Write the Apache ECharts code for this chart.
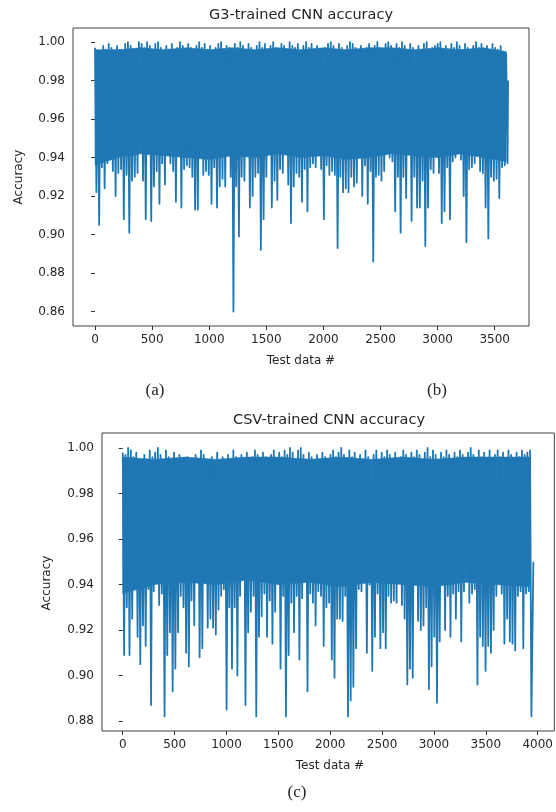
<!DOCTYPE html>
<html>
<head>
<meta charset="utf-8">
<script src="https://cdn.jsdelivr.net/npm/echarts@6/dist/echarts.min.js"></script>
<style>
    html, body { margin: 0; padding: 0; background: #fff; }
    #main { width: 556px; height: 812px; }
</style>
</head>
<body>
<div id="main"></div>
<script>
// G3 chart: one high + one low per block of 24 test samples
var g3Step = 24
var g3High = [
    0.997,0.993,0.995,0.998,0.996,0.999,0.997,0.995,0.998,0.996,
    0.994,0.999,1.000,0.998,0.988,0.996,1.000,0.999,0.997,1.000,
    0.998,0.996,0.999,1.000,0.997,0.995,0.998,0.996,0.999,0.994,
    0.997,1.000,0.998,0.996,0.999,0.997,0.995,0.998,1.000,0.997,
    0.999,0.996,0.998,0.994,0.997,0.999,1.000,0.996,0.998,0.997,
    0.995,0.999,0.997,1.000,0.998,0.996,0.999,0.997,0.994,0.998,
    1.000,0.997,0.999,0.996,0.998,1.000,0.997,0.995,0.999,0.998,
    0.996,1.000,0.998,0.997,0.999,0.995,0.998,1.000,0.997,0.999,
    0.996,0.998,0.994,0.989,0.997,0.999,1.000,0.998,0.996,0.999,
    0.997,0.995,0.998,1.000,0.999,0.997,0.996,0.998,0.994,0.997,
    0.999,0.996,0.998,1.000,0.997,0.989,0.999,1.000,0.998,0.996,
    0.999,0.997,1.000,0.998,0.995,0.999,0.997,0.994,0.998,0.996,
    0.999,1.000,0.985,0.997,0.998,0.999,1.000,0.996,0.998,0.995,
    0.999,0.997,1.000,0.998,0.996,0.999,0.997,0.994,0.998,1.000,
    0.997,0.999,0.996,0.998,0.995,0.999,0.997,0.996,0.998,0.995,
    0.994
]
var g3Low = [
    0.922,0.905,0.935,0.924,0.937,0.946,0.933,0.920,0.932,0.934,
    0.908,0.931,0.901,0.928,0.930,0.932,0.948,0.928,0.908,0.942,
    0.907,0.925,0.933,0.916,0.937,0.926,0.945,0.937,0.933,0.917,
    0.952,0.914,0.934,0.936,0.935,0.930,0.913,0.913,0.950,0.931,
    0.933,0.931,0.916,0.935,0.914,0.925,0.929,0.925,0.947,0.930,
    0.860,0.925,0.899,0.930,0.928,0.946,0.914,0.920,0.930,0.932,
    0.892,0.908,0.930,0.949,0.914,0.928,0.918,0.934,0.932,0.951,
    0.926,0.906,0.925,0.932,0.930,0.917,0.934,0.912,0.935,0.937,
    0.935,0.947,0.934,0.908,0.936,0.931,0.933,0.931,0.893,0.930,
    0.922,0.924,0.922,0.930,0.925,0.927,0.945,0.920,0.936,0.916,
    0.933,0.886,0.930,0.931,0.928,0.933,0.950,0.940,0.938,0.912,
    0.930,0.901,0.930,0.919,0.948,0.907,0.930,0.914,0.914,0.928,
    0.894,0.914,0.934,0.932,0.946,0.932,0.906,0.912,0.935,0.908,
    0.938,0.940,0.951,0.939,0.920,0.896,0.934,0.935,0.937,0.946,
    0.933,0.932,0.914,0.898,0.930,0.928,0.929,0.919,0.935,0.936,
    0.937
]
var g3Last = [3617, 0.980]
// dense core of the band (where the trace is too packed to show gaps)
var g3CoreX = [0, 200, 400, 600, 800, 1000, 1200, 1400, 1600, 1800, 2000, 2200, 2400, 2600, 2800, 3000, 3200, 3400, 3600]
var g3CoreTop = [0.996, 0.996, 0.997, 0.996, 0.997, 0.996, 0.997, 0.996, 0.997, 0.996, 0.997, 0.996, 0.997, 0.997, 0.996, 0.997, 0.996, 0.997, 0.995]
var g3CoreBot = [0.936, 0.940, 0.942, 0.941, 0.940, 0.939, 0.941, 0.940, 0.942, 0.940, 0.941, 0.939, 0.940, 0.942, 0.941, 0.940, 0.942, 0.940, 0.938]
var g3XTicks = [0, 500, 1000, 1500, 2000, 2500, 3000, 3500]
var g3YTicks = [0.86, 0.88, 0.90, 0.92, 0.94, 0.96, 0.98, 1.00]

// CSV chart: one high + one low per block of 26 test samples
var csvStep = 26
var csvHigh = [
    0.998,0.997,1.000,0.999,0.996,0.998,0.994,0.993,0.997,0.995,
    0.999,0.996,0.998,1.000,0.997,0.994,0.999,0.996,0.992,0.998,
    0.995,0.997,0.993,0.991,0.996,0.984,0.994,0.997,0.995,0.999,
    0.997,0.995,0.993,0.996,0.994,0.998,0.992,0.996,0.994,0.997,
    0.995,0.999,0.996,0.993,0.997,0.995,0.998,0.994,0.996,0.999,
    0.997,0.994,0.998,0.996,0.993,0.997,0.999,0.995,0.998,0.996,
    0.999,0.997,1.000,0.998,0.995,0.999,1.000,0.997,0.995,0.998,
    0.996,0.993,0.997,0.995,0.998,0.996,0.994,0.997,0.999,0.996,
    0.998,1.000,0.997,0.994,0.999,0.996,0.998,0.993,0.997,0.995,
    0.999,0.996,0.985,0.997,0.999,0.994,0.998,0.996,0.999,0.997,
    0.995,0.998,0.985,0.996,0.999,0.997,0.994,0.998,0.996,0.999,
    0.997,0.994,0.998,1.000,0.996,0.999,0.997,0.995,0.998,0.996,
    0.999,0.997,0.994,0.998,0.996,0.999,0.997,0.995,0.998,1.000,
    0.997,0.994,0.999,0.996,0.998,0.995,0.999,0.986,0.997,0.999,
    0.996,0.998,0.995,0.999,0.997,0.994,0.998,0.996,0.999,0.997,
    0.998,0.999
]
var csvLow = [
    0.909,0.930,0.909,0.925,0.944,0.917,0.905,0.922,0.913,0.938,
    0.887,0.937,0.946,0.931,0.936,0.882,0.909,0.919,0.893,0.903,
    0.919,0.935,0.930,0.910,0.904,0.933,0.922,0.945,0.908,0.912,
    0.942,0.921,0.925,0.921,0.918,0.929,0.935,0.938,0.885,0.930,
    0.903,0.930,0.900,0.935,0.947,0.887,0.919,0.928,0.935,0.882,
    0.917,0.926,0.936,0.917,0.933,0.914,0.928,0.944,0.903,0.935,
    0.882,0.909,0.932,0.919,0.935,0.907,0.934,0.946,0.893,0.936,
    0.932,0.922,0.937,0.935,0.913,0.930,0.932,0.907,0.899,0.925,
    0.925,0.924,0.935,0.882,0.889,0.895,0.912,0.938,0.937,0.948,
    0.910,0.940,0.902,0.917,0.936,0.912,0.919,0.912,0.935,0.932,
    0.933,0.932,0.945,0.931,0.925,0.896,0.903,0.899,0.946,0.924,
    0.920,0.922,0.930,0.894,0.904,0.917,0.888,0.915,0.976,0.920,
    0.935,0.917,0.936,0.925,0.937,0.915,0.937,0.947,0.932,0.936,
    0.938,0.896,0.917,0.913,0.902,0.913,0.910,0.920,0.935,0.944,
    0.936,0.914,0.925,0.915,0.914,0.911,0.935,0.937,0.912,0.936,
    0.937,0.882
]
var csvLast = [3958, 0.950]
var csvCoreX = [0, 300, 600, 900, 1200, 1500, 1800, 2100, 2400, 2700, 3000, 3300, 3600, 3920]
var csvCoreTop = [0.996, 0.995, 0.996, 0.995, 0.996, 0.996, 0.995, 0.996, 0.995, 0.996, 0.995, 0.996, 0.996, 0.996]
var csvCoreBot = [0.936, 0.940, 0.941, 0.940, 0.942, 0.940, 0.941, 0.939, 0.941, 0.940, 0.939, 0.941, 0.940, 0.939]
var csvXTicks = [0, 500, 1000, 1500, 2000, 2500, 3000, 3500, 4000]
var csvYTicks = [0.88, 0.90, 0.92, 0.94, 0.96, 0.98, 1.00]

function buildPoints(step, highs, lows, last) {
    var pts = []
    for (var i = 0; i < highs.length; i++) {
        pts.push([i * step, highs[i]])
        pts.push([i * step + step / 2, lows[i]])
    }
    pts.push(last)
    return pts
}

var txtColor = '#262626'
var font = 'DejaVu Sans'
var blue = '#1f77b4'

function makeX(idx, min, max, ticks) {
    return {
        type: 'value', gridIndex: idx, min: min, max: max,
        axisLine: { show: false },
        splitLine: { show: false },
        axisTick: { show: true, length: 4, lineStyle: { color: '#333' }, customValues: ticks },
        axisLabel: {
            color: txtColor, fontFamily: font, fontSize: 12, margin: 8, customValues: ticks,
            formatter: function (v) { return String(v) }
        }
    }
}

function makeY(idx, min, max, ticks) {
    return {
        type: 'value', gridIndex: idx, min: min, max: max,
        axisLine: { show: false },
        splitLine: { show: false },
        axisTick: { show: true, length: 4, lineStyle: { color: '#333' }, customValues: ticks },
        axisLabel: {
            color: txtColor, fontFamily: font, fontSize: 12, margin: 8, customValues: ticks,
            formatter: function (v) { return v.toFixed(2) }
        }
    }
}

function label(text, x, y, size, fam, rot) {
    return {
        type: 'text', x: x, y: y, rotation: rot || 0,
        style: { text: text, fill: txtColor, font: size + 'px "' + fam + '"', align: 'center', verticalAlign: 'middle' }
    }
}

// the packed middle of the band, one quad between each pair of core points
function coreSeries(idx, xs, tops, bots) {
    return {
        type: 'custom', xAxisIndex: idx, yAxisIndex: idx, silent: true, clip: true, z: 2,
        data: xs.slice(0, -1).map(function (x, i) { return [x, tops[i], bots[i]] }),
        renderItem: function (params, api) {
            var i = params.dataIndex
            var pts = [
                api.coord([xs[i], tops[i]]),
                api.coord([xs[i + 1], tops[i + 1]]),
                api.coord([xs[i + 1], bots[i + 1]]),
                api.coord([xs[i], bots[i]])
            ]
            return {
                type: 'polygon',
                shape: { points: pts },
                style: { fill: blue, stroke: blue, lineWidth: 0.6 }
            }
        }
    }
}

function traceSeries(idx, pts) {
    return {
        type: 'line', xAxisIndex: idx, yAxisIndex: idx, z: 3,
        data: pts, symbol: 'none',
        lineStyle: { color: blue, width: 1.8, join: 'round' }
    }
}

var option = {
    animation: false,
    backgroundColor: '#fff',
    grid: [
        { left: 73, top: 28, width: 456, height: 298, show: true, borderColor: '#404040', borderWidth: 1 },
        { left: 102, top: 433, width: 456, height: 298, show: true, borderColor: '#404040', borderWidth: 1 }
    ],
    xAxis: [
        makeX(0, -193, 3800, g3XTicks),
        makeX(1, -200, 4160, csvXTicks)
    ],
    yAxis: [
        makeY(0, 0.8525, 1.0073, g3YTicks),
        makeY(1, 0.8756, 1.0066, csvYTicks)
    ],
    graphic: [
        label('G3-trained CNN accuracy', 301, 15, 14.5, font),
        label('Test data #', 301, 361, 12, font),
        label('Accuracy', 19, 177, 12, font, Math.PI / 2),
        label('(a)', 155, 391, 17, 'Liberation Serif'),
        label('(b)', 437, 391, 17, 'Liberation Serif'),
        label('CSV-trained CNN accuracy', 329, 420, 14.5, font),
        label('Test data #', 330, 766, 12, font),
        label('Accuracy', 47, 583, 12, font, Math.PI / 2),
        label('(c)', 297, 793, 17, 'Liberation Serif')
    ],
    series: [
        coreSeries(0, g3CoreX, g3CoreTop, g3CoreBot),
        coreSeries(1, csvCoreX, csvCoreTop, csvCoreBot),
        traceSeries(0, buildPoints(g3Step, g3High, g3Low, g3Last)),
        traceSeries(1, buildPoints(csvStep, csvHigh, csvLow, csvLast))
    ]
};

var chart = echarts.init(document.getElementById('main'))
chart.setOption(option)
</script>
</body>
</html>
